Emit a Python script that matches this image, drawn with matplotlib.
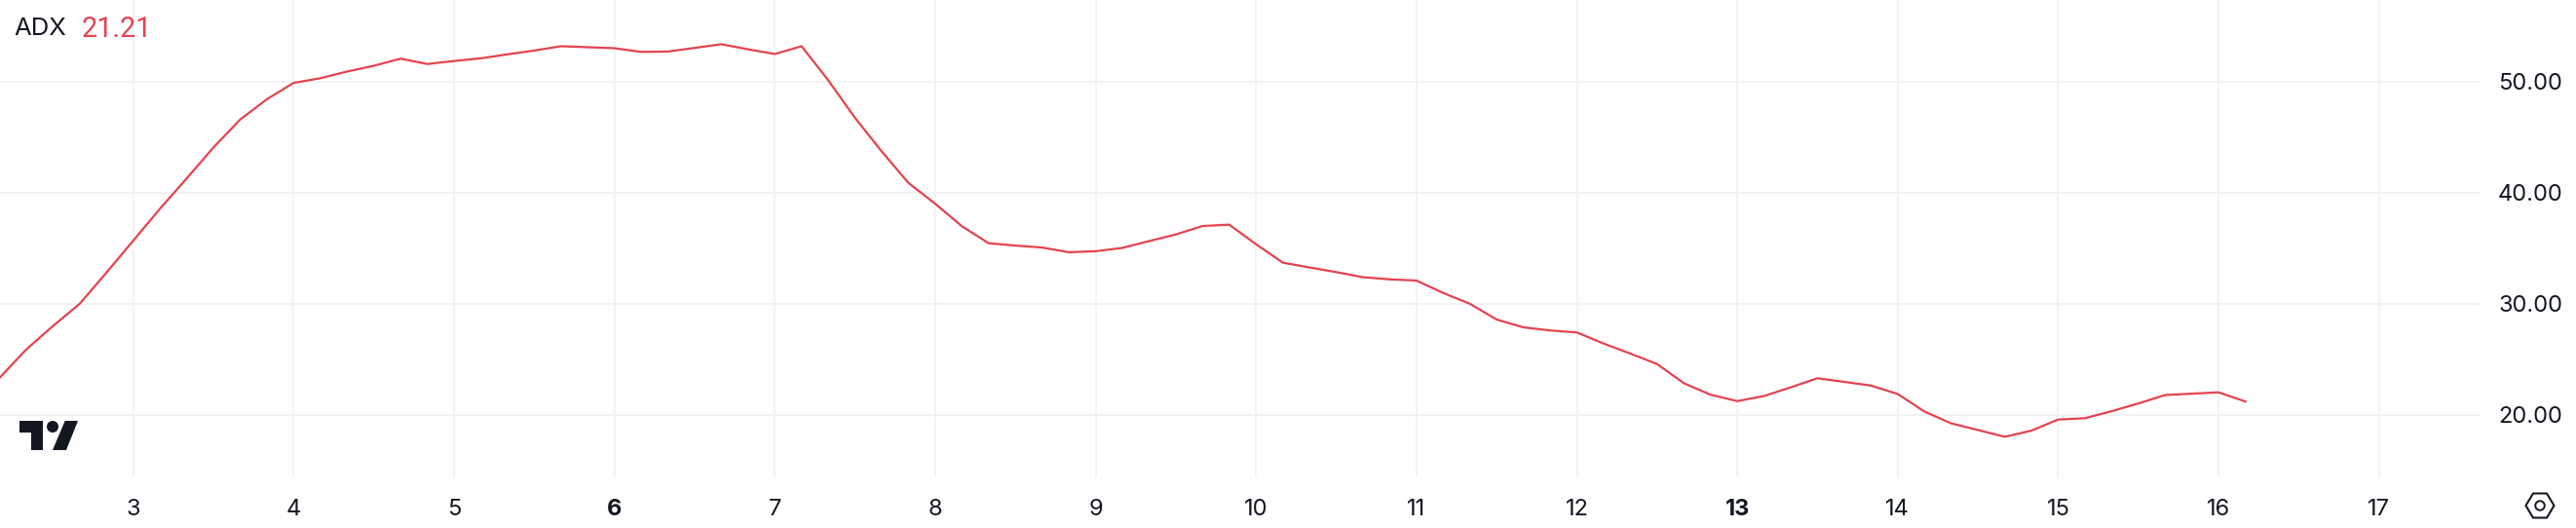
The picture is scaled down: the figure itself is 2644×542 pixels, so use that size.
import matplotlib
matplotlib.use("Agg")
import matplotlib.pyplot as plt
from matplotlib.patches import Polygon, Ellipse

plt.rcParams['font.family'] = ['Inter', 'DejaVu Sans']

# Day of month for each 4-hour sample
days = [2.167, 2.333, 2.5, 2.667, 2.833, 3.0, 3.167, 3.333, 3.5, 3.667, 3.833,
        4.0, 4.167, 4.333, 4.5, 4.667, 4.833, 5.0, 5.167, 5.333, 5.5, 5.667, 5.833,
        6.0, 6.167, 6.333, 6.5, 6.667, 6.833, 7.0, 7.167, 7.333, 7.5, 7.667, 7.833,
        8.0, 8.167, 8.333, 8.5, 8.667, 8.833, 9.0, 9.167, 9.333, 9.5, 9.667, 9.833,
        10.0, 10.167, 10.333, 10.5, 10.667, 10.833, 11.0, 11.167, 11.333, 11.5, 11.667, 11.833,
        12.0, 12.167, 12.333, 12.5, 12.667, 12.833, 13.0, 13.167, 13.333, 13.5, 13.667, 13.833,
        14.0, 14.167, 14.333, 14.5, 14.667, 14.833, 15.0, 15.167, 15.333, 15.5, 15.667, 15.833,
        16.0, 16.167]
adx = [23.33, 25.88, 28.0, 30.0, 32.8, 35.67, 38.55, 41.27, 44.06, 46.58, 48.4,
       49.88, 50.3, 50.9, 51.42, 52.06, 51.58, 51.85, 52.09, 52.45, 52.79, 53.18, 53.09,
       53.0, 52.67, 52.7, 53.03, 53.36, 52.9, 52.48, 53.18, 50.12, 46.73, 43.7, 40.88,
       39.0, 36.97, 35.45, 35.24, 35.06, 34.64, 34.73, 35.03, 35.64, 36.24, 37.0, 37.12,
       35.36, 33.7, 33.27, 32.85, 32.39, 32.2, 32.09, 30.97, 30.0, 28.58, 27.88, 27.6,
       27.42, 26.42, 25.52, 24.58, 22.85, 21.82, 21.24, 21.7, 22.48, 23.3, 22.97, 22.64,
       21.88, 20.3, 19.24, 18.64, 18.03, 18.58, 19.58, 19.7, 20.33, 21.03, 21.79, 21.91,
       22.03, 21.21]
x_ticks = [3, 4, 5, 6, 7, 8, 9, 10, 11, 12, 13, 14, 15, 16, 17]
bold_ticks = [6, 13]
y_ticks = [20, 30, 40, 50]
y_labels = ["20.00", "30.00", "40.00", "50.00"]
indicator_name = "ADX"
indicator_value = "21.21"

W, H = 2644, 542
RED = "#e4434f"
INK = "#131722"
GRID = "#f1f2f4"

fig = plt.figure(figsize=(W / 100, H / 100), dpi=100, facecolor="white")
ax = fig.add_axes([0, (H - 490) / H, 2546 / W, 490 / H])
ax.set_xlim(2.17, 17.633)
ax.set_ylim(14.38, 57.34)
for s in ax.spines.values():
    s.set_visible(False)

ax.set_xticks(x_ticks)
ax.set_xticklabels([str(t) for t in x_ticks])
ax.set_yticks(y_ticks)
ax.set_yticklabels(y_labels)
ax.yaxis.tick_right()
ax.tick_params(axis="x", length=0, pad=15.5, labelsize=17, labelcolor=INK)
ax.tick_params(axis="y", length=0, pad=13, labelsize=17, labelcolor=INK)
for t, lab in zip(x_ticks, ax.get_xticklabels()):
    if t in bold_ticks:
        lab.set_fontweight("bold")
ax.grid(True, axis="y", color=GRID, lw=1.5)
ax.grid(True, axis="x", color=GRID, lw=1.3)
ax.set_axisbelow(True)

ax.plot(days, adx, color=RED, lw=1.6, solid_joinstyle="miter")

# Legend text
fig.text(14 / W, 1 - 30 / H, indicator_name, fontsize=18.5, color=INK, va="center", ha="left")
fig.text(84 / W, 1 - 30 / H, indicator_value, fontsize=20.8, color=RED, va="center", ha="left",
         family=["Roboto", "DejaVu Sans"])


def px(x, y):
    return (x / W, 1 - y / H)


# TradingView mark
logo_kw = dict(transform=fig.transFigure, facecolor=INK, edgecolor="none")
fig.add_artist(Polygon([px(20, 432), px(44, 432), px(44, 462), px(32, 462), px(32, 444), px(20, 444)], **logo_kw))
fig.add_artist(Polygon([px(66.7, 432), px(80, 432), px(68, 462), px(54, 462)], **logo_kw))
fig.add_artist(Ellipse(px(54, 438), 12 / W, 12 / H, **logo_kw))

# Settings hexagon
hx = [(2592.5, 519), (2600, 506.5), (2614, 506.5), (2621.5, 519), (2614, 531.5), (2600, 531.5)]
fig.add_artist(Polygon([px(a, b) for a, b in hx], closed=True, transform=fig.transFigure,
                       facecolor="none", edgecolor=INK, lw=1.5))
fig.add_artist(Ellipse(px(2607, 519), 9.5 / W, 9.5 / H, transform=fig.transFigure,
                       facecolor="none", edgecolor=INK, lw=1.4))

fig.savefig("out.png", dpi=100, facecolor="white")
